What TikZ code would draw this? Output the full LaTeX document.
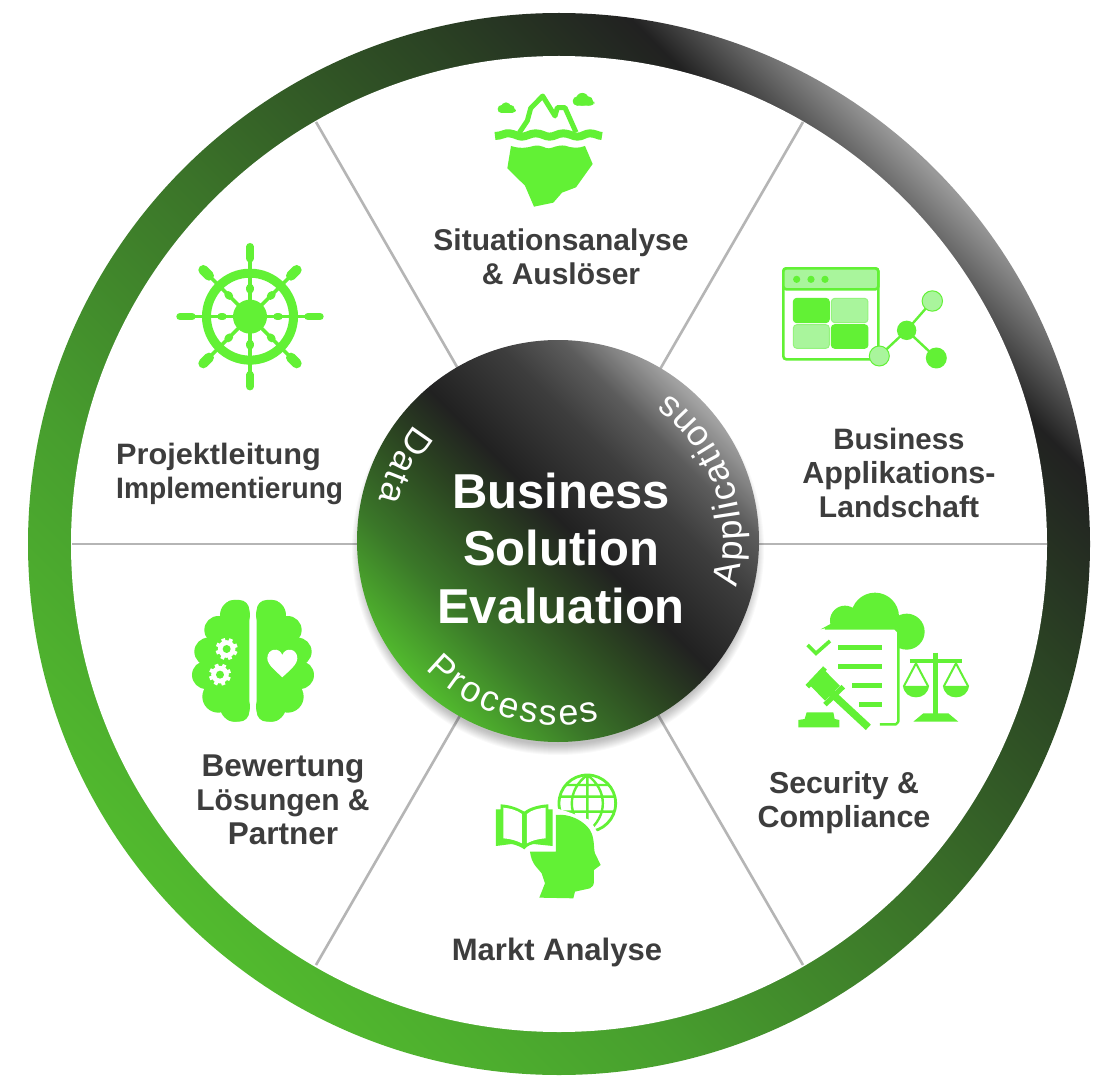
\documentclass[tikz,border=0pt]{standalone}
\usepackage{fontspec}
\usepackage{graphicx}
\setmainfont{Liberation Sans}
\usetikzlibrary{decorations.text,calc}
\definecolor{gr}{HTML}{62F135}
\definecolor{lgr}{HTML}{A9F59C}
\definecolor{txt}{HTML}{3D3D3D}
\definecolor{spoke}{HTML}{B5B5B5}
\pgfdeclareverticalshading{ringgrad}{100bp}{
 rgb(0bp)=(0.32,0.73,0.18);
 rgb(25bp)=(0.32,0.73,0.18);
 rgb(37bp)=(0.28,0.62,0.18);
 rgb(50bp)=(0.23,0.45,0.16);
 rgb(62bp)=(0.17,0.27,0.14);
 rgb(70bp)=(0.13,0.13,0.13);
 rgb(75bp)=(0.60,0.60,0.60);
 rgb(100bp)=(0.60,0.60,0.60)}
\pgfdeclareverticalshading{hubgrad}{100bp}{
 rgb(0bp)=(0.32,0.73,0.18);
 rgb(25bp)=(0.32,0.73,0.18);
 rgb(35bp)=(0.23,0.47,0.16);
 rgb(45bp)=(0.17,0.27,0.13);
 rgb(52bp)=(0.13,0.13,0.13);
 rgb(62bp)=(0.24,0.24,0.24);
 rgb(68bp)=(0.36,0.36,0.36);
 rgb(75bp)=(0.65,0.65,0.65);
 rgb(100bp)=(0.65,0.65,0.65)}
\tikzset{
 outerdisc/.style={circle,minimum size=1062pt,inner sep=0pt,shade,shading=ringgrad,shading angle=-45},
 whitedisc/.style={circle,minimum size=976pt,inner sep=0pt,fill=white},
 hubdisc/.style={circle,minimum size=402pt,inner sep=0pt,shade,shading=hubgrad,shading angle=-45},
 spokeline/.style={draw=spoke,line width=2.6pt},
 label/.style={text=txt,align=center,inner sep=0pt,font=\fontsize{29.5}{34}\selectfont\bfseries},
 hubtitle/.style={text=white,align=center,inner sep=0pt,font=\fontsize{49}{57.5}\selectfont\bfseries},
 icon/.style={x=.33333pt,y=-.33333pt},
}
\newcommand{\sz}[2]{{\fontsize{#1}{34}\selectfont #2}}
\newcommand{\arctext}[5]{% start, end, radius, size, text
 \path[decorate,decoration={text along path,text align=fit to path,
   text={|\fontsize{#4}{#4}\selectfont\color{white}|#5}}]
   ($(hub.center)+(#1:#3)$) arc[start angle=#1,end angle=#2,radius=#3];
}
\newcommand{\gearicon}[2]{%
 \foreach \a in {0,45,...,315}{\draw[white,line width=3.8pt] ($(#1,#2)+(\a+20:7pt)$) -- ($(#1,#2)+(\a+20:11pt)$);}
 \fill[white] (#1,#2) circle[radius=8.8pt];
 \fill[gr] (#1,#2) circle[radius=4pt];
}
\begin{document}
\begin{tikzpicture}[x=1pt,y=-1pt]
\useasboundingbox (0,0) rectangle (1117,1086);
\fill[white] (0,0) rectangle (1117,1086);
% ring
\node[outerdisc] (ring) at (559,544) {};
\node[whitedisc] (inner) at (559,544) {};
% spokes
\coordinate (c) at (559,544);
\coordinate (s0) at (1047,544);
\coordinate (s1) at (803,122);
\coordinate (s2) at (316,122);
\coordinate (s3) at (72,544);
\coordinate (s4) at (316,965);
\coordinate (s5) at (803,965);
\foreach \s in {s0,s1,s2,s3,s4,s5}{\draw[spokeline] (c) -- (\s);}
% hub shadow
\foreach \r in {206,205,...,196}{\fill[black,opacity=0.025] (558,549) circle[radius=\r pt];}
\node[hubdisc] (hub) at (558,541) {};
\node[hubtitle] (title) at (561,548) {Business\\Solution\\Evaluation};
\arctext{224}{283}{184pt}{36}{Processes}
\arctext{-14.5}{53}{184pt}{36}{Applications}
\arctext{141}{167}{184pt}{36}{Data}
% labels
\node[label] (l1) at (561,257) {\sz{30}{Situationsanalyse}\\\sz{30}{\& Auslöser}};
\node[label] (l2) at (899,473) {Business\\\sz{30.5}{Applikations-}\\\sz{30}{Landschaft}};
\node[label] (l3) at (844,803) {\sz{30.3}{Security \&}\\\sz{30.5}{Compliance}};
\node[label] (l4) at (557,952) {\sz{31}{Markt Analyse}};
\node[label] (l5) at (283,800) {\sz{31.5}{Bewertung}\\\sz{30}{Lösungen \&}\\\sz{31.5}{Partner}};
\node[label,anchor=west,align=left] (l6) at (116,474) {\scalebox{1.04}[1]{Projektleitung}\\\scalebox{.955}[1]{Implementierung}};
% ---- iceberg
\begin{scope}[icon,shift={(1410,240)}]
 \fill[gr] (123,198) .. controls (150,206) and (165,205) .. (190,198) .. controls (215,192) and (225,207) .. (237,205)
   .. controls (250,204) and (262,194) .. (285,197) .. controls (305,204) and (325,206) .. (345,198)
   -- (368,252) -- (318,322) -- (276,338) -- (250,368) -- (192,380) -- (165,317) -- (112,265) -- cycle;
 \draw[gr,line width=8pt] (75,168) .. controls (95,168) and (105,158) .. (118,160) .. controls (135,162) and (145,170) .. (155,170)
   .. controls (170,170) and (180,160) .. (197,160) .. controls (215,160) and (225,170) .. (238,170)
   .. controls (255,170) and (262,160) .. (280,160) .. controls (297,160) and (310,170) .. (322,170)
   .. controls (338,170) and (345,160) .. (360,160) .. controls (375,160) and (385,168) .. (396,168);
 \draw[gr,line width=5pt,line join=round] (148,158) -- (172,122) -- (182,85) -- (218,48) -- (255,108) -- (262,83) -- (285,83) -- (318,157);
 \fill[gr,rounded corners=4pt] (85,99) -- (85,84) -- (138,84) -- (138,99) -- cycle;
 \fill[gr] (108,82) circle[radius=5pt] (95,87) circle[radius=4pt] (122,87) circle[radius=4pt];
 \fill[gr,rounded corners=4pt] (310,77) -- (310,60) -- (373,60) -- (373,77) -- cycle;
 \fill[gr] (337,58) circle[radius=6.4pt] (322,63) circle[radius=4.6pt] (355,63) circle[radius=4.6pt];
\end{scope}
% ---- application window
\begin{scope}[icon,shift={(2310,765)}]
 \draw[gr,line width=2.6pt,rounded corners=3pt,fill=white] (40,40) rectangle (325,313);
 \draw[gr,line width=2.6pt,rounded corners=3pt,fill=lgr] (40,40) rectangle (325,103);
 \foreach \x in {80,123,165}{\fill[gr] (\x,73) circle[radius=3.6pt];}
 \draw[gr,line width=1pt,rounded corners=3.5pt,fill=gr] (70,130) rectangle (178,203);
 \draw[lgr!70!gr,line width=1pt,rounded corners=3.5pt,fill=lgr] (184,130) rectangle (294,203);
 \draw[lgr!70!gr,line width=1pt,rounded corners=3.5pt,fill=lgr] (70,209) rectangle (178,280);
 \draw[gr,line width=1pt,rounded corners=3.5pt,fill=gr] (184,209) rectangle (294,280);
 \coordinate (n1) at (328,303); \coordinate (n2) at (410,226); \coordinate (n3) at (487,138); \coordinate (n4) at (499,309);
 \draw[gr,line width=2.4pt] (n1) -- (n2) -- (n3) (n2) -- (n4);
 \draw[gr,line width=1pt,fill=lgr] (n1) circle[radius=10pt];
 \fill[gr] (n2) circle[radius=9.7pt];
 \draw[gr,line width=1pt,fill=lgr] (n3) circle[radius=10.2pt];
 \fill[gr] (n4) circle[radius=10.5pt];
\end{scope}
% ---- security & compliance
\begin{scope}[icon,shift={(2370,1740)}]
 \fill[gr] (255,110) circle[radius=24pt] (165,122) circle[radius=15pt] (350,155) circle[radius=18pt] (220,120) rectangle (330,205);
 \fill[gr] (92,148) -- (125,130) -- (130,148) -- cycle;
 \fill[white] (105,145) -- (318,145) -- (323,150) -- (323,425) -- (105,445) -- (30,445) -- (30,170) -- cycle;
 \draw[gr,line width=2.4pt,line join=round] (105,145) -- (315,145) -- (325,155) -- (325,425) -- (318,433) -- (270,433);
 \draw[gr,line width=3.6pt] (53,195) -- (78,220) -- (120,183);
 \draw[gr,line width=4.8pt] (145,203) -- (277,203) (145,260) -- (277,260) (187,317) -- (275,317) (207,374) -- (275,374);
 \fill[gr] (62,318) -- (105,272) -- (150,318) -- (105,362) -- cycle;
 \draw[gr,line width=5pt] (52,320) -- (105,264) (105,374) -- (160,320);
 \draw[gr,line width=7.4pt] (125,340) -- (235,442);
 \fill[gr] (50,397) -- (130,397) -- (134,417) -- (148,420) -- (148,442) -- (25,442) -- (25,420) -- (44,417) -- cycle;
 \draw[gr,line width=4.8pt] (437,218) -- (437,405);
 \draw[gr,line width=4.4pt] (360,243) -- (515,243);
 \fill[gr] (400,400) -- (475,400) -- (505,425) -- (370,425) -- cycle;
 \foreach \x in {378,498}{
  \draw[gr,line width=2pt] (\x-37,320) -- (\x,250) -- (\x+37,320);
  \fill[gr] (\x-39,318) -- (\x+39,318) .. controls (\x+36,340) and (\x+20,352) .. (\x,352) .. controls (\x-20,352) and (\x-36,340) .. (\x-39,318) -- cycle;
 }
\end{scope}
% ---- book, head, globe
\begin{scope}[icon,shift={(1440,2310)}]
 \draw[gr,line width=2.8pt] (322,100) circle[radius=85];
 \draw[gr,line width=2.4pt] (322,15) .. controls (260,60) and (260,140) .. (322,185)
   (322,15) .. controls (384,60) and (384,140) .. (322,185)
   (322,15) -- (322,185) (240,80) -- (404,80) (240,125) -- (404,125)
   (258,45) -- (386,45);
 \fill[white] (220,112) -- (262,125) -- (330,150) -- (360,200) -- (370,290) -- (140,290) -- (140,240) -- (220,240) -- cycle;
 \fill[gr] (228,135) .. controls (265,130) and (310,150) .. (330,180) .. controls (345,205) and (340,235) .. (345,250)
   -- (362,285) -- (342,300) -- (342,330) .. controls (342,345) and (338,352) .. (330,355)
   -- (285,365) -- (280,385) -- (178,383) -- (195,340) -- (185,310)
   .. controls (175,295) and (155,285) .. (150,245) -- (228,245) -- cycle;
 \fill[gr] (48,118) -- (62,118) -- (62,103) .. controls (90,105) and (110,112) .. (133,125)
   .. controls (150,112) and (175,105) .. (205,103) -- (205,118) -- (218,118) -- (218,228) -- (160,222) .. controls (145,225) and (135,235) .. (133,238)
   .. controls (125,232) and (110,225) .. (95,222) -- (48,228) -- cycle;
 \fill[white] (70,113) .. controls (90,115) and (110,120) .. (126,132) -- (126,220) .. controls (110,212) and (90,206) .. (70,205) -- cycle;
 \fill[white] (197,113) .. controls (175,115) and (155,120) .. (141,132) -- (141,220) .. controls (155,212) and (175,206) .. (197,205) -- cycle;
\end{scope}
% ---- brain
\begin{scope}[icon,shift={(540,1770)}]
 \fill[gr] (165,75) circle[radius=15pt] (115,120) circle[radius=14pt] (85,185) circle[radius=14pt] (78,255) circle[radius=14pt] (115,320) circle[radius=16pt] (165,350) circle[radius=15pt];
 \fill[gr,rounded corners=10pt] (130,30) rectangle (208,395);
 \fill[gr] (95,100) rectangle (150,360);
 \fill[gr] (273,75) circle[radius=15pt] (323,120) circle[radius=14pt] (353,185) circle[radius=14pt] (360,255) circle[radius=14pt] (323,320) circle[radius=16pt] (273,350) circle[radius=15pt];
 \fill[gr,rounded corners=10pt] (230,30) rectangle (308,395);
 \fill[gr] (288,100) rectangle (343,360);
 \gearicon{140}{177}
 \gearicon{120}{254}
 \fill[white] (307,262) .. controls (290,245) and (262,225) .. (262,205) .. controls (262,175) and (298,170) .. (307,195)
   .. controls (316,170) and (352,175) .. (352,205) .. controls (352,225) and (324,245) .. (307,262) -- cycle;
\end{scope}
% ---- helm
\begin{scope}[icon,shift={(510,705)}]
 \coordinate (h) at (240,245);
 \draw[gr,line width=9pt] (h) circle[radius=43.5pt];
 \fill[gr] (h) circle[radius=17pt];
 \foreach \a in {0,90,180,270}{
  \draw[gr,line width=3.6pt] (h) -- ($(h)+(\a:58pt)$);
  \draw[gr,line width=7.4pt,line cap=round] ($(h)+(\a:58pt)$) -- ($(h)+(\a:70pt)$);
  \draw[gr,line width=7.4pt,line cap=round] ($(h)+(\a:27pt)$) -- ($(h)+(\a:29pt)$);
 }
 \foreach \a in {45,135,225,315}{
  \draw[gr,line width=3.6pt] (h) -- ($(h)+(\a:55pt)$);
  \draw[gr,line width=10pt,line cap=round] ($(h)+(\a:58pt)$) -- ($(h)+(\a:66pt)$);
  \draw[gr,line width=7.4pt,line cap=round] ($(h)+(\a:29pt)$) -- ($(h)+(\a:31pt)$);
 }
\end{scope}
\end{tikzpicture}
\end{document}
